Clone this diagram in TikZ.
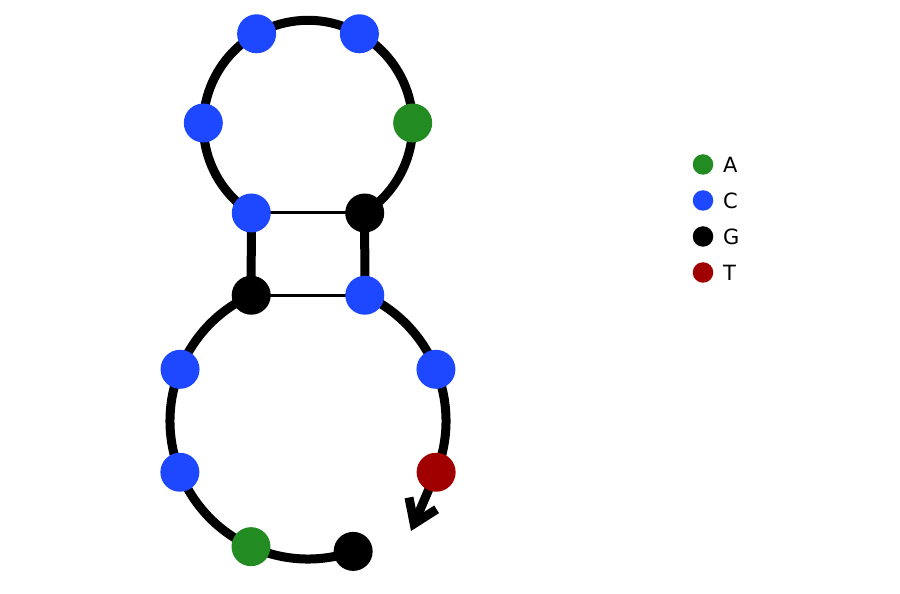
\documentclass[tikz,border=0pt]{standalone}
\usepackage{fontspec}
\setmainfont{DejaVu Sans}
\usetikzlibrary{arrows.meta,backgrounds}
\definecolor{nucA}{RGB}{34,139,34}
\definecolor{nucC}{RGB}{30,72,255}
\definecolor{nucG}{RGB}{0,0,0}
\definecolor{nucT}{RGB}{160,0,0}
\begin{document}
\begin{tikzpicture}[x=1pt,y=1pt,
  base/.style={circle,inner sep=0pt,minimum size=39pt,draw=none},
  bA/.style={base,fill=nucA}, bC/.style={base,fill=nucC},
  bG/.style={base,fill=nucG}, bT/.style={base,fill=nucT},
  backbone/.style={line width=9pt,draw=black},
  pair/.style={line width=3pt,draw=black},
  ldot/.style={circle,inner sep=0pt,minimum size=20.5pt,draw=none},
  ltext/.style={anchor=west,inner sep=0pt,font=\fontsize{21}{25}\selectfont}]
\useasboundingbox (0,0) rectangle (900,594);
\coordinate (bc) at (308,173);
\coordinate (tc) at (308,469);
% bottom loop
\node[bG] (b1) at ([shift={(289.1:138)}]bc) {};
\node[bA] (b2) at ([shift={(245.6:138)}]bc) {};
\node[bC] (b3) at ([shift={(201.8:138)}]bc) {};
\node[bC] (b4) at ([shift={(158:138)}]bc) {};
\node[bG] (b5) at ([shift={(114.3:138)}]bc) {};
\node[bC] (b6) at ([shift={(65.7:138)}]bc) {};
\node[bC] (b7) at ([shift={(22:138)}]bc) {};
\node[bT] (b8) at ([shift={(-21.8:138)}]bc) {};
% top loop
\node[bC] (t1) at ([shift={(237.2:104.7)}]tc) {};
\node[bC] (t2) at ([shift={(178.9:104.7)}]tc) {};
\node[bC] (t3) at ([shift={(119.4:104.7)}]tc) {};
\node[bC] (t4) at ([shift={(60.6:104.7)}]tc) {};
\node[bA] (t5) at ([shift={(1.1:104.7)}]tc) {};
\node[bG] (t6) at ([shift={(-57.2:104.7)}]tc) {};
\coordinate (endtip) at (411,63);
\begin{scope}[on background layer]
  \draw[backbone] (b1.center) arc[start angle=289.1,end angle=114.3,radius=138]
     -- (t1.center) arc[start angle=237.2,end angle=-57.2,radius=104.7]
     -- (b6.center) arc[start angle=65.7,end angle=-21.8,radius=138];
  \draw[backbone,-{Straight Barb[length=22pt,width=30pt,line join=miter]}] (b8.center) -- (endtip);
  \draw[pair] (t1.center) -- (t6.center);
  \draw[pair] (b5.center) -- (b6.center);
\end{scope}
% legend
\node[ldot,fill=nucA] (lA) at (703,429.5) {};
\node[ldot,fill=nucC] (lC) at (703,393.5) {};
\node[ldot,fill=nucG] (lG) at (703,357.5) {};
\node[ldot,fill=nucT] (lT) at (703,321.5) {};
\node[ltext] (tA) at (723,429.5) {A};
\node[ltext] (tC) at (723,393.5) {C};
\node[ltext] (tG) at (723,357.5) {G};
\node[ltext] (tT) at (723,321.5) {T};
\end{tikzpicture}
\end{document}
